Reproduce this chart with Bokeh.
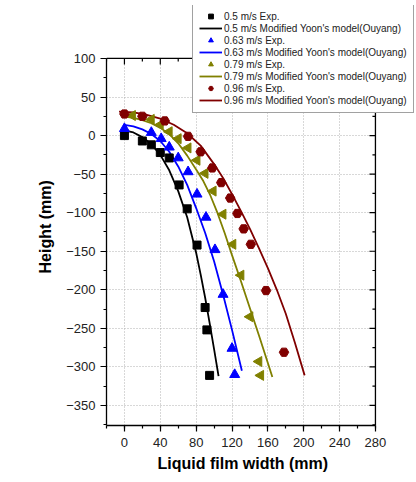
import math
from bokeh.plotting import figure
from bokeh.models import (Legend, LegendItem, LinearAxis, SingleIntervalTicker, Range1d,
                          Grid, BoxAnnotation, Title)
from bokeh.embed import file_html
from bokeh.resources import INLINE

# ---- experimental data ----
x_05 = [0, 20, 30, 40, 50, 61, 70, 81, 90, 92, 95]
y_05 = [0, -7, -12, -22, -29, -64, -95, -142, -223, -252, -311]

x_063 = [0, 30, 41, 50, 60, 71, 81, 91, 101, 110, 120, 123]
y_063 = [9, 4, -4, -15, -29, -47, -76, -106, -148, -206, -276, -310]

x_079 = [9, 30, 40, 50, 60, 71, 81, 90, 99, 110, 121, 130, 140, 150, 152]
y_079 = [26, 21, 14, 5, -4, -16, -32, -49, -72, -102, -141, -181, -235, -293, -311]

x_096 = [0, 20, 45, 71, 85, 98, 108, 118, 126, 133, 141, 158, 178]
y_096 = [28, 25, 19, -1, -21, -42, -61, -81, -101, -121, -141, -201, -281]

# ---- model curves (Modified Yoon's model, Ouyang) ----
mx_05 = [2, 10, 20, 30, 40, 50, 60, 70, 80, 85, 90, 95, 100, 105]
my_05 = [6, 4, -2, -11, -25, -45, -72, -106, -152, -180, -210, -243, -277, -312]

mx_063 = [0, 10, 20, 30, 40, 50, 60, 70, 80, 90, 100, 110, 120, 131]
my_063 = [14, 12, 8, 2, -7, -21, -40, -64, -94, -126, -163, -206, -252, -305]

mx_079 = [-2, 10, 20, 30, 40, 50, 60, 70, 80, 88, 96, 104, 112, 120, 130, 140, 150, 160, 165]
my_079 = [25, 23, 20, 16, 10, 2, -10, -26, -44, -59, -78, -101, -127, -155, -189, -224, -259, -295, -313]

mx_096 = [-6, 10, 25, 40, 55, 70, 85, 100, 110, 120, 130, 140, 150, 160, 170, 180, 190, 201]
my_096 = [31, 30, 27, 22, 14, 3, -13, -37, -55, -76, -98, -121, -146, -172, -200, -231, -268, -311]

labels = ["0.5 m/s Exp.", "0.5 m/s Modified Yoon's model(Ouyang)",
          "0.63 m/s Exp.", "0.63 m/s Modified Yoon's model(Ouyang)",
          "0.79 m/s Exp.", "0.79 m/s Modified Yoon's model(Ouyang)",
          "0.96 m/s Exp.", "0.96 m/s Modified Yoon's model(Ouyang)"]
x_title = "Liquid film width (mm)"
y_title = "Height (mm)"

# axis extents of the drawn box
X_MIN, X_MAX = -20, 280
Y_MIN, Y_MAX = -376, 100
x_major = list(range(0, 281, 40))
x_minor = list(range(-20, 281, 40))
y_major = list(range(-350, 101, 50))
y_minor = list(range(-375, 101, 50))

BLACK = "#000000"
BLUE = "#0000ff"
OLIVE = "#808000"
WINE = "#800000"
FONT = "Liberation Sans"

# frame is extended to the top/right so the legend (which sits partly outside the
# axis box) is not clipped; the extra area is blanked out
p = figure(width=416, height=482, output_backend="svg", toolbar_location=None,
           x_range=Range1d(X_MIN, 325.8), y_range=Range1d(Y_MIN, 168.7),
           min_border_left=106, min_border_right=0, min_border_top=5,
           min_border_bottom=57, x_axis_type=None, y_axis_type=None)
p.outline_line_color = None
p.background_fill_color = "white"
p.border_fill_color = "white"

xt = SingleIntervalTicker(interval=40, num_minor_ticks=2)
yt = SingleIntervalTicker(interval=50, num_minor_ticks=2)

def style_axis(ax):
    ax.axis_line_color = "black"
    ax.axis_line_width = 1.3
    ax.major_tick_line_color = "black"
    ax.minor_tick_line_color = "black"
    ax.major_tick_line_width = 1.2
    ax.minor_tick_line_width = 1.2
    ax.major_tick_in = 0
    ax.major_tick_out = 6
    ax.minor_tick_in = 0
    ax.minor_tick_out = 3
    ax.major_label_text_font = FONT
    ax.major_label_text_font_size = "13px"
    ax.major_label_text_color = "#222222"

xaxis = LinearAxis(ticker=xt, bounds=(X_MIN, X_MAX))
style_axis(xaxis)
xaxis.major_label_standoff = 6
p.add_layout(xaxis, "below")

yaxis = LinearAxis(ticker=yt, bounds=(Y_MIN, Y_MAX))
style_axis(yaxis)
yaxis.major_label_standoff = 5
p.add_layout(yaxis, "left")

# axis titles placed relative to the axis box (not the extended frame)
p.add_layout(Title(text=x_title, align="left", offset=51, standoff=6,
                   text_font=FONT, text_font_size="16px", text_font_style="bold",
                   text_color="black"), "below")
p.add_layout(Title(text=y_title, align="left", offset=152, standoff=19,
                   text_font=FONT, text_font_size="16px", text_font_style="bold",
                   text_color="black"), "left")

gx = Grid(dimension=0, ticker=xt, grid_line_color="#b0b0b0", grid_line_dash="1 2", grid_line_width=1)
gy = Grid(dimension=1, ticker=yt, grid_line_color="#b0b0b0", grid_line_dash="1 2", grid_line_width=1)
p.add_layout(gx)
p.add_layout(gy)

# blank out grid outside the axis box
p.add_layout(BoxAnnotation(bottom=Y_MAX, fill_color="white", fill_alpha=1, line_alpha=0, level="underlay"))
p.add_layout(BoxAnnotation(left=X_MAX, fill_color="white", fill_alpha=1, line_alpha=0, level="underlay"))

# top and right frame lines with inward ticks
p.segment(x0=[X_MIN, X_MAX], y0=[Y_MAX, Y_MIN], x1=[X_MAX, X_MAX], y1=[Y_MAX, Y_MAX],
          line_color="black", line_width=1.3)
p.ray(x=x_major, y=[Y_MAX] * len(x_major), length=6, length_units="screen",
      angle=-math.pi / 2, line_color="black", line_width=1.2)
p.ray(x=x_minor, y=[Y_MAX] * len(x_minor), length=3, length_units="screen",
      angle=-math.pi / 2, line_color="black", line_width=1.2)
p.ray(x=[X_MAX] * len(y_major), y=y_major, length=6, length_units="screen",
      angle=math.pi, line_color="black", line_width=1.2)
p.ray(x=[X_MAX] * len(y_minor), y=y_minor, length=3, length_units="screen",
      angle=math.pi, line_color="black", line_width=1.2)

lw = 1.8
l05 = p.line(mx_05, my_05, line_color=BLACK, line_width=lw)
l063 = p.line(mx_063, my_063, line_color=BLUE, line_width=lw)
l079 = p.line(mx_079, my_079, line_color=OLIVE, line_width=lw)
l096 = p.line(mx_096, my_096, line_color=WINE, line_width=lw)

s05 = p.scatter(x_05, y_05, marker="square", size=8, fill_color=BLACK, line_color=BLACK)
s063 = p.scatter(x_063, y_063, marker="triangle", size=10, fill_color=BLUE, line_color=BLUE)
s079 = p.scatter(x_079, y_079, marker="triangle", angle=math.pi / 2, size=10,
                 fill_color=OLIVE, line_color=OLIVE)
s096 = p.scatter(x_096, y_096, marker="hex", size=9.5, fill_color=WINE, line_color=WINE)

items = [LegendItem(label=labels[0], renderers=[s05]),
         LegendItem(label=labels[1], renderers=[l05]),
         LegendItem(label=labels[2], renderers=[s063]),
         LegendItem(label=labels[3], renderers=[l063]),
         LegendItem(label=labels[4], renderers=[s079]),
         LegendItem(label=labels[5], renderers=[l079]),
         LegendItem(label=labels[6], renderers=[s096]),
         LegendItem(label=labels[7], renderers=[l096])]

legend = Legend(items=items, location=(86, 312), margin=0, padding=6, spacing=0,
                glyph_width=23, glyph_height=12, label_height=12, label_standoff=2,
                label_text_font=FONT, label_text_font_size="10px",
                label_text_color="#222222",
                border_line_color="#444444", border_line_width=1,
                background_fill_color="white", background_fill_alpha=1)
p.add_layout(legend, "center")

open("out.html", "w").write(file_html(p, INLINE))
